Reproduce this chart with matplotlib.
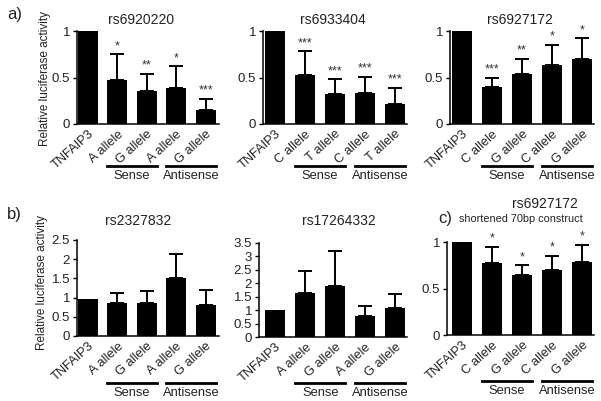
import matplotlib
matplotlib.use("Agg")
import matplotlib.pyplot as plt
import matplotlib.transforms as mtrans

plt.rcParams['font.family'] = ['Liberation Sans', 'DejaVu Sans']

# ---- data ----
labels_a1 = ["TNFAIP3", "A allele", "G allele", "A allele", "G allele"]
vals_a1 = [1.0, 0.47, 0.35, 0.39, 0.15]
errs_a1 = [0.0, 0.28, 0.19, 0.23, 0.12]
stars_a1 = ["", "*", "**", "*", "***"]

labels_a2 = ["TNFAIP3", "C allele", "T allele", "C allele", "T allele"]
vals_a2 = [1.0, 0.53, 0.32, 0.33, 0.22]
errs_a2 = [0.0, 0.25, 0.16, 0.18, 0.17]
stars_a2 = ["", "***", "***", "***", "***"]

labels_a3 = ["TNFAIP3", "C allele", "G allele", "C allele", "G allele"]
vals_a3 = [1.0, 0.40, 0.54, 0.63, 0.70]
errs_a3 = [0.0, 0.10, 0.16, 0.22, 0.22]
stars_a3 = ["", "***", "**", "*", "*"]

labels_b1 = ["TNFAIP3", "A allele", "G allele", "A allele", "G allele"]
vals_b1 = [0.97, 0.85, 0.87, 1.52, 0.82]
errs_b1 = [0.0, 0.27, 0.29, 0.62, 0.38]

labels_b2 = ["TNFAIP3", "A allele", "G allele", "A allele", "G allele"]
vals_b2 = [1.0, 1.64, 1.90, 0.78, 1.07]
errs_b2 = [0.0, 0.82, 1.30, 0.37, 0.54]

labels_c = ["TNFAIP3", "C allele", "G allele", "C allele", "G allele"]
vals_c = [1.0, 0.77, 0.64, 0.70, 0.78]
errs_c = [0.0, 0.18, 0.11, 0.15, 0.19]
stars_c = ["", "*", "*", "*", "*"]

group_labels = ["Sense", "Antisense"]

W, H = 601, 401
fig = plt.figure(figsize=(W / 100, H / 100), dpi=100)
TXT = "#222222"


def px_axes(x0, x1, ytop, ybot):
    return fig.add_axes([x0 / W, 1 - ybot / H, (x1 - x0) / W, (ybot - ytop) / H])


def panel(ax, labels, vals, errs, ylim, yticks, yticklabels, xlim,
          stars=None, group_y=166):
    x = list(range(len(vals)))
    ax.bar(x, vals, width=0.67, color="black", zorder=2)
    for xi, v, e in zip(x, vals, errs):
        if e > 0:
            ax.errorbar([xi], [v], yerr=[[0], [e]], fmt="none", ecolor="black",
                        elinewidth=1.4, capsize=5, capthick=1.4, zorder=3)
    ax.set_xlim(*xlim)
    ax.set_ylim(*ylim)
    ax.set_yticks(yticks)
    ax.set_yticklabels(yticklabels, fontsize=9.5, color=TXT)
    ax.set_xticks(x)
    ax.set_xticklabels(labels, rotation=42, ha="right", rotation_mode="anchor",
                       fontsize=9.3, color=TXT)
    ax.tick_params(axis="x", length=0, pad=3)
    ax.tick_params(axis="y", length=3, width=1, pad=2)
    for s in ["top", "right"]:
        ax.spines[s].set_visible(False)
    for s in ["left", "bottom"]:
        ax.spines[s].set_linewidth(1.1)
    if stars is not None:
        for xi, v, e, st in zip(x, vals, errs, stars):
            if st:
                ax.annotate(st, (xi, v + e), xytext=(0, 1.5), textcoords="offset points",
                            ha="center", va="bottom", fontsize=9, color="#333333")
    tr = mtrans.blended_transform_factory(ax.transData, fig.transFigure)
    yl = 1 - group_y / H
    yt = 1 - (group_y + 10) / H
    for (a, b), lab in zip([(1, 2), (3, 4)], group_labels):
        ax.plot([a - 0.335, b + 0.335], [yl, yl], color="black", lw=2.0,
                transform=tr, clip_on=False)
        ax.text((a + b) / 2, yt, lab, transform=tr, ha="center", va="center",
                fontsize=9.3, color=TXT)
    return ax


# top row
ax1 = px_axes(77, 219, 31, 124)
panel(ax1, labels_a1, vals_a1, errs_a1, (0, 1), [0, 0.5, 1], ["0", "0.5", "1"],
      (-0.37, 4.45), stars_a1, group_y=166)
ax2 = px_axes(263, 407, 31, 124)
panel(ax2, labels_a2, vals_a2, errs_a2, (0, 1), [0, 0.5, 1], ["0", "0.5", "1"],
      (-0.40, 4.40), stars_a2, group_y=166)
ax3 = px_axes(450, 594, 31, 124)
panel(ax3, labels_a3, vals_a3, errs_a3, (0, 1), [0, 0.5, 1], ["0", "0.5", "1"],
      (-0.40, 4.40), stars_a3, group_y=166)

# bottom row
bx1 = px_axes(77, 219, 240, 336)
panel(bx1, labels_b1, vals_b1, errs_b1, (0, 2.5), [0, 0.5, 1, 1.5, 2, 2.5],
      ["0", "0.5", "1", "1.5", "2", "2.5"], (-0.37, 4.45), group_y=383)
bx2 = px_axes(259, 407, 243, 337)
panel(bx2, labels_b2, vals_b2, errs_b2, (0, 3.5), [0, 0.5, 1, 1.5, 2, 2.5, 3, 3.5],
      ["0", "0.5", "1", "1.5", "2", "2.5", "3", "3.5"], (-0.55, 4.40), group_y=383)
cx = px_axes(447, 594, 242, 335)
panel(cx, labels_c, vals_c, errs_c, (0, 1), [0, 0.5, 1], ["0", "0.5", "1"],
      (-0.50, 4.40), stars_c, group_y=381)


def ftext(x, y, s, **kw):
    fig.text(x / W, 1 - y / H, s, **kw)


# titles
ftext(141, 20, "rs6920220", ha="center", va="center", fontsize=10, color=TXT)
ftext(333, 20, "rs6933404", ha="center", va="center", fontsize=10, color=TXT)
ftext(520, 20, "rs6927172", ha="center", va="center", fontsize=10, color=TXT)
ftext(138, 221, "rs2327832", ha="center", va="center", fontsize=10, color=TXT)
ftext(339, 221, "rs17264332", ha="center", va="center", fontsize=10, color=TXT)
ftext(545, 204, "rs6927172", ha="center", va="center", fontsize=10, color=TXT)
ftext(521, 219, "shortened 70bp construct", ha="center", va="center", fontsize=7.8,
      color=TXT)

# panel letters
ftext(7, 15, "a)", ha="left", va="center", fontsize=12, color=TXT)
ftext(7, 215, "b)", ha="left", va="center", fontsize=12, color=TXT)
ftext(438, 219, "c)", ha="left", va="center", fontsize=12, color=TXT)

# y labels
ftext(45, 78, "Relative luciferase activity", ha="center", va="center",
      rotation=90, fontsize=8.5, color=TXT)
ftext(42, 283, "Relative luciferase activity", ha="center", va="center",
      rotation=90, fontsize=8.5, color=TXT)

fig.savefig("out.png", dpi=100, facecolor="white")
